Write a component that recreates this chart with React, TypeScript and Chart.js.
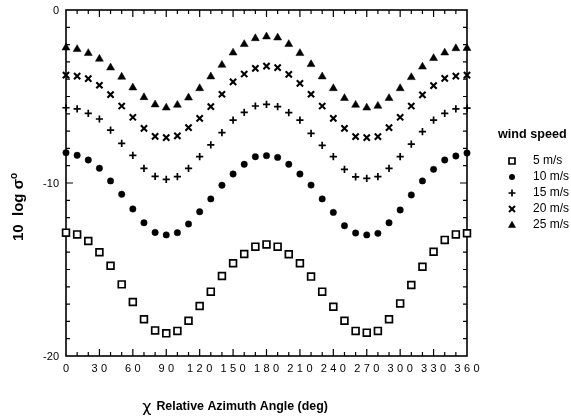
import React, { useEffect, useRef } from 'react';
import { Chart, registerables } from 'chart.js';

Chart.register(...registerables);

// ---- data ----
const angles = [0, 10, 20, 30, 40, 50, 60, 70, 80, 90, 100, 110, 120, 130, 140, 150, 160, 170, 180, 190, 200, 210, 220, 230, 240, 250, 260, 270, 280, 290, 300, 310, 320, 330, 340, 350, 360];

const wind5 = [-12.87, -12.97, -13.35, -14.0, -14.78, -15.86, -16.88, -17.88, -18.52, -18.69, -18.55, -17.96, -17.11, -16.28, -15.38, -14.64, -14.1, -13.68, -13.55, -13.68, -14.12, -14.64, -15.41, -16.28, -17.15, -17.96, -18.55, -18.65, -18.55, -17.88, -16.96, -15.9, -14.84, -13.97, -13.29, -12.97, -12.9];
const wind10 = [-8.25, -8.4, -8.67, -9.15, -9.88, -10.65, -11.5, -12.3, -12.86, -13.0, -12.87, -12.37, -11.66, -10.92, -10.13, -9.48, -8.92, -8.48, -8.42, -8.52, -8.92, -9.48, -10.12, -10.92, -11.7, -12.47, -12.89, -13.0, -12.91, -12.3, -11.56, -10.69, -9.88, -9.21, -8.67, -8.44, -8.27];
const wind15 = [-5.65, -5.72, -5.97, -6.3, -6.94, -7.71, -8.4, -9.15, -9.62, -9.79, -9.63, -9.15, -8.48, -7.8, -7.09, -6.36, -5.92, -5.55, -5.45, -5.59, -5.93, -6.36, -7.13, -7.82, -8.48, -9.21, -9.65, -9.73, -9.63, -9.15, -8.48, -7.75, -7.03, -6.36, -5.97, -5.72, -5.67];
const wind20 = [-3.76, -3.82, -3.97, -4.35, -4.89, -5.55, -6.2, -6.84, -7.3, -7.38, -7.28, -6.8, -6.26, -5.59, -4.87, -4.16, -3.7, -3.37, -3.24, -3.33, -3.72, -4.24, -4.87, -5.55, -6.26, -6.84, -7.32, -7.38, -7.32, -6.8, -6.2, -5.55, -4.91, -4.37, -3.95, -3.82, -3.76];
const wind25 = [-2.18, -2.27, -2.5, -2.83, -3.33, -3.87, -4.49, -5.05, -5.47, -5.65, -5.49, -5.07, -4.53, -3.85, -3.18, -2.47, -1.98, -1.64, -1.54, -1.6, -1.98, -2.5, -3.14, -3.85, -4.53, -5.1, -5.49, -5.65, -5.55, -5.1, -4.53, -3.89, -3.28, -2.79, -2.47, -2.22, -2.21];

const seriesLabels = ['5 m/s', '10 m/s', '15 m/s', '20 m/s', '25 m/s'];
const xTickValues = [0, 30, 60, 90, 120, 150, 180, 210, 240, 270, 300, 330, 360];
const yTickValues = [0, -10, -20];
const xTitle = 'Relative Azimuth Angle (deg)';
const xTitleSymbol = 'χ';
const legendTitle = 'wind speed';

const FONT = '"Liberation Sans", Arial, Helvetica, sans-serif';

type MarkerKind = 'square' | 'circle' | 'plus' | 'x' | 'triangle';
const markerKinds: MarkerKind[] = ['square', 'circle', 'plus', 'x', 'triangle'];

function drawMarker(ctx: CanvasRenderingContext2D, kind: MarkerKind, x: number, y: number) {
  ctx.save();
  ctx.strokeStyle = '#000';
  ctx.fillStyle = '#000';
  ctx.beginPath();
  if (kind === 'square') {
    ctx.lineWidth = 1.7;
    ctx.fillStyle = '#fff';
    ctx.rect(x - 3, y - 3, 6, 6);
    ctx.fill();
    ctx.stroke();
  } else if (kind === 'circle') {
    ctx.arc(x, y, 3, 0, Math.PI * 2);
    ctx.fill();
  } else if (kind === 'plus') {
    ctx.lineWidth = 1.7;
    ctx.moveTo(x - 3.5, y); ctx.lineTo(x + 3.5, y);
    ctx.moveTo(x, y - 3.5); ctx.lineTo(x, y + 3.5);
    ctx.stroke();
  } else if (kind === 'x') {
    ctx.lineWidth = 2;
    ctx.moveTo(x - 3, y - 3); ctx.lineTo(x + 3, y + 3);
    ctx.moveTo(x + 3, y - 3); ctx.lineTo(x - 3, y + 3);
    ctx.stroke();
  } else {
    ctx.moveTo(x, y - 4.2);
    ctx.lineTo(x + 4, y + 2.8);
    ctx.lineTo(x - 4, y + 2.8);
    ctx.closePath();
    ctx.fill();
  }
  ctx.restore();
}

const framePlugin = {
  id: 'frameAndTicks',
  beforeDatasetsDraw(chart: any) {
    const { ctx, chartArea } = chart;
    const xs = chart.scales.x;
    const ys = chart.scales.y;
    const { left, right, top, bottom } = chartArea;
    ctx.save();
    ctx.strokeStyle = '#000';
    ctx.lineWidth = 1.6;
    ctx.strokeRect(left, top, right - left, bottom - top);
    ctx.lineWidth = 1.2;
    ctx.beginPath();
    for (let v = 10; v < 360; v += 10) {
      const px = xs.getPixelForValue(v);
      const len = v % 30 === 0 ? 7 : 4;
      ctx.moveTo(px, bottom); ctx.lineTo(px, bottom - len);
      ctx.moveTo(px, top); ctx.lineTo(px, top + len);
    }
    for (let v = -19; v < 0; v += 1) {
      const py = ys.getPixelForValue(v);
      const len = v % 10 === 0 ? 7 : 4;
      ctx.moveTo(left, py); ctx.lineTo(left + len, py);
      ctx.moveTo(right, py); ctx.lineTo(right - len, py);
    }
    ctx.stroke();
    ctx.restore();
  },
  afterDraw(chart: any) {
    const { ctx, chartArea } = chart;
    const xs = chart.scales.x;
    const ys = chart.scales.y;
    const { left, bottom } = chartArea;
    ctx.save();
    ctx.fillStyle = '#000';
    // y tick labels
    ctx.font = `11px ${FONT}`;
    ctx.textAlign = 'right';
    ctx.textBaseline = 'middle';
    yTickValues.forEach((v) => {
      ctx.fillText(String(v), left - 7, ys.getPixelForValue(v) + 1);
    });
    // x tick labels (spaced digits)
    ctx.font = `11px ${FONT}`;
    ctx.textAlign = 'left';
    ctx.textBaseline = 'middle';
    const spacing = 3.4;
    xTickValues.forEach((v) => {
      const s = String(v);
      let w = 0;
      for (const ch of s) w += ctx.measureText(ch).width;
      w += spacing * (s.length - 1);
      let cx = xs.getPixelForValue(v) - w / 2;
      for (const ch of s) {
        ctx.fillText(ch, cx, bottom + 13);
        cx += ctx.measureText(ch).width + spacing;
      }
    });
    // x title
    ctx.font = `bold 12.4px ${FONT}`;
    ctx.textBaseline = 'middle';
    ctx.textAlign = 'left';
    const titleW = ctx.measureText(xTitle).width;
    ctx.font = `16px "DejaVu Sans", sans-serif`;
    const chiW = ctx.measureText(xTitleSymbol).width;
    const totalW = chiW + 5 + titleW;
    const tx = 235 - totalW / 2;
    ctx.fillText(xTitleSymbol, tx, 408);
    ctx.font = `bold 12.4px ${FONT}`;
    ctx.fillText(xTitle, tx + chiW + 5, 407);
    // y title rotated
    ctx.save();
    ctx.translate(19, 207);
    ctx.rotate(-Math.PI / 2);
    ctx.font = `bold 15px ${FONT}`;
    const p1 = '10  log ';
    const p2 = 'σ';
    const w1 = ctx.measureText(p1).width;
    const w2 = ctx.measureText(p2).width;
    ctx.font = `bold 10px ${FONT}`;
    const w3 = ctx.measureText('o').width;
    const tot = w1 + w2 + w3;
    let sx = -tot / 2;
    ctx.textAlign = 'left';
    ctx.textBaseline = 'middle';
    ctx.font = `bold 15px ${FONT}`;
    ctx.fillText(p1, sx, 0);
    sx += w1;
    ctx.fillText(p2, sx, 0);
    sx += w2;
    ctx.font = `bold 10px ${FONT}`;
    ctx.fillText('o', sx, -5);
    ctx.restore();
    // legend
    ctx.font = `bold 12.6px ${FONT}`;
    ctx.textAlign = 'left';
    ctx.textBaseline = 'middle';
    ctx.fillText(legendTitle, 498, 135);
    ctx.font = `12px ${FONT}`;
    seriesLabels.forEach((lab, i) => {
      const yy = 161 + i * 16;
      drawMarker(ctx, markerKinds[i], 512, yy);
      ctx.fillStyle = '#000';
      ctx.fillText(lab, 533, yy);
    });
    ctx.restore();
  },
};

function toPoints(vals: number[]) {
  return angles.map((a, i) => ({ x: a, y: vals[i] }));
}

export default function App() {
  const ref = useRef<HTMLCanvasElement | null>(null);
  useEffect(() => {
    if (!ref.current) return;
    const common = {
      showLine: false,
      clip: false as any,
      borderColor: '#000',
      backgroundColor: '#000',
    };
    const chart = new Chart(ref.current, {
      type: 'scatter',
      data: {
        datasets: [
          { ...common, label: seriesLabels[0], data: toPoints(wind5), pointStyle: 'rect', pointRadius: 4.8, borderWidth: 1.7, backgroundColor: '#fff' },
          { ...common, label: seriesLabels[1], data: toPoints(wind10), pointStyle: 'circle', pointRadius: 3.2, borderWidth: 0.5 },
          { ...common, label: seriesLabels[2], data: toPoints(wind15), pointStyle: 'cross', pointRadius: 3.6, borderWidth: 1.7 },
          { ...common, label: seriesLabels[3], data: toPoints(wind20), pointStyle: 'crossRot', pointRadius: 4.4, borderWidth: 2.1 },
          { ...common, label: seriesLabels[4], data: toPoints(wind25), pointStyle: 'triangle', pointRadius: 4.6, borderWidth: 0.5 },
        ],
      },
      options: {
        animation: false,
        responsive: false,
        layout: { padding: { left: 66, right: 104, top: 10, bottom: 64 } },
        plugins: { legend: { display: false }, tooltip: { enabled: false } },
        scales: {
          x: { type: 'linear', min: 0, max: 360, display: false },
          y: { type: 'linear', min: -20, max: 0, display: false },
        },
      },
      plugins: [framePlugin],
    });
    return () => chart.destroy();
  }, []);
  return (
    <div style={{ position: 'absolute', left: 0, top: 0, width: 571, height: 420, background: '#fff' }}>
      <canvas ref={ref} width={571} height={420} />
    </div>
  );
}
